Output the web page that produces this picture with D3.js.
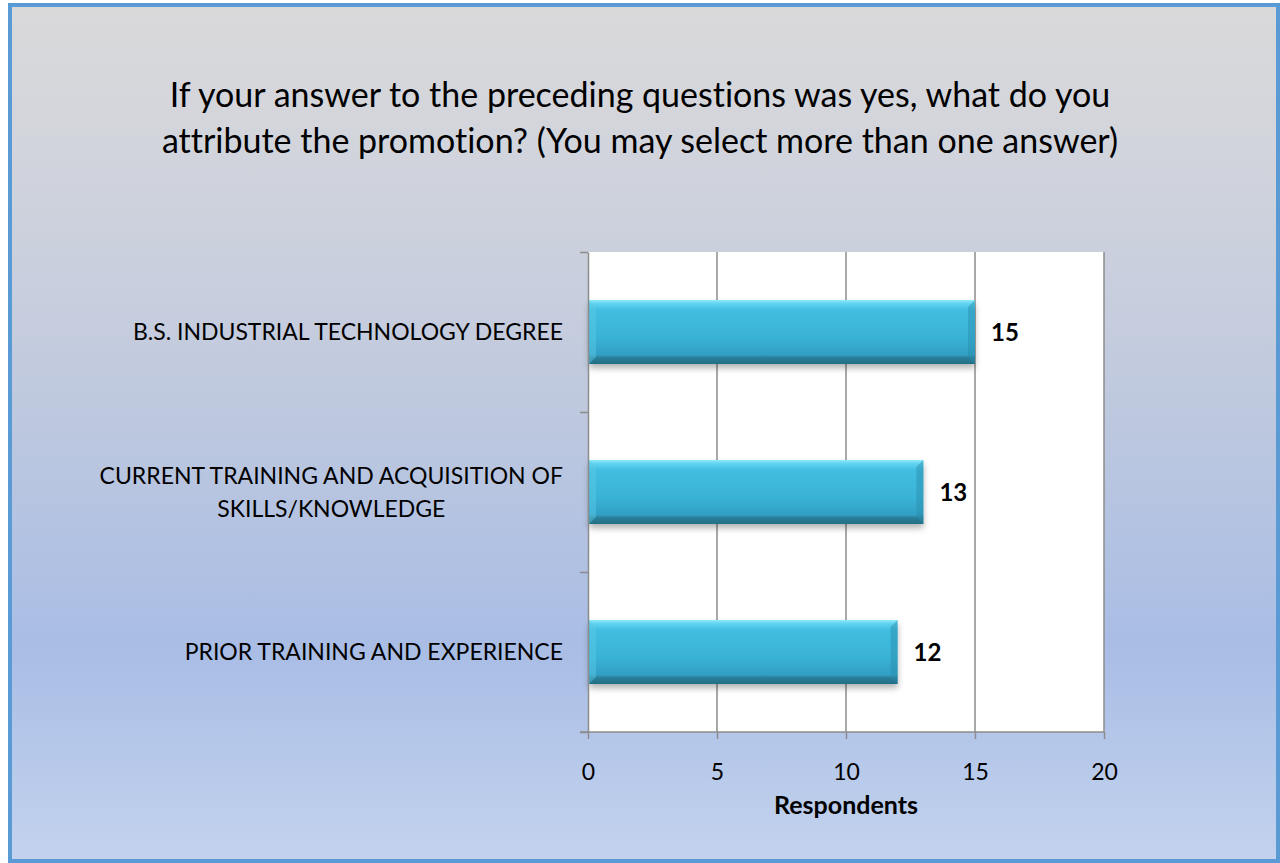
<!DOCTYPE html>
<html>
<head>
<meta charset="utf-8">
<script src="https://cdn.jsdelivr.net/npm/d3@7"></script>
<style>
  html, body { margin: 0; padding: 0; background: #ffffff; }
  svg { display: block; }
  text {
    font-family: Lato, "Open Sans", sans-serif;
    fill: #000;
    font-variant-ligatures: none;
    font-feature-settings: "liga" 0, "clig" 0;
  }
</style>
</head>
<body>
<svg id="chart" width="1280" height="863"></svg>
<script>
'use strict';

// chart data
var titleLines = [
    'If your answer to the preceding questions was yes, what do you',
    'attribute the promotion? (You may select more than one answer)'
];
var categories = [
    'B.S. INDUSTRIAL TECHNOLOGY DEGREE',
    'CURRENT TRAINING AND ACQUISITION OF SKILLS/KNOWLEDGE',
    'PRIOR TRAINING AND EXPERIENCE'
];
var values = [15, 13, 12];
var xTicks = [0, 5, 10, 15, 20];
var xTitle = 'Respondents';

var W = 1280, H = 863;
var margin = { left: 588, top: 252, right: 176, bottom: 131 };
var width = W - margin.left - margin.right;
var height = H - margin.top - margin.bottom;

var svg = d3.select('#chart');
var defs = svg.append('defs');

// background gradient
var bg = defs.append('linearGradient')
    .attr('id', 'bg-grad')
    .attr('x1', 0).attr('y1', 0).attr('x2', 0).attr('y2', 1);
[[0, '#d9d9da'], [0.15, '#d3d5dc'], [0.46, '#bfc9de'], [0.75, '#a9bde5'], [1, '#c3d3ee']]
    .forEach(function(s) {
        bg.append('stop').attr('offset', s[0]).attr('stop-color', s[1]);
    });

// bar gradient
var barGrad = defs.append('linearGradient')
    .attr('id', 'bar-grad')
    .attr('x1', 0).attr('y1', 0).attr('x2', 0).attr('y2', 1);
[[0, '#8cecfb'], [0.06, '#5fd3ee'], [0.16, '#41bde0'], [0.6, '#39b2d6'], [0.86, '#319fc3'], [0.9, '#2a7f99'], [1, '#236f87']]
    .forEach(function(s) {
        barGrad.append('stop').attr('offset', s[0]).attr('stop-color', s[1]);
    });

var shadow = defs.append('filter')
    .attr('id', 'bar-shadow')
    .attr('x', '-5%').attr('y', '-20%').attr('width', '110%').attr('height', '150%');
shadow.append('feDropShadow')
    .attr('dx', 0).attr('dy', 4)
    .attr('stdDeviation', 3)
    .attr('flood-color', '#000')
    .attr('flood-opacity', 0.3);

// frame
svg.append('rect')
    .attr('x', 10).attr('y', 5)
    .attr('width', 1268).attr('height', 856)
    .attr('fill', 'url(#bg-grad)')
    .attr('stroke', '#5b9bd5')
    .attr('stroke-width', 4);

// title
svg.append('g')
    .attr('class', 'title')
    .selectAll('text')
    .data(titleLines)
    .enter()
    .append('text')
    .attr('x', 640)
    .attr('y', function(d, i) { return 107 + i * 46; })
    .attr('text-anchor', 'middle')
    .style('font-size', '34px')
    .text(function(d) { return d; });

var x = d3.scaleLinear()
    .domain([0, 20])
    .range([0, width]);

var y = d3.scaleBand()
    .domain(categories)
    .range([0, height])
    .paddingInner(0.6)
    .paddingOuter(0.3);

// boundary ticks for the category axis
var yEdge = d3.scaleLinear()
    .domain([0, categories.length])
    .range([0, height]);

var g = svg.append('g')
    .attr('transform', 'translate(' + margin.left + ',' + margin.top + ')');

// plot area
g.append('rect')
    .attr('width', width)
    .attr('height', height)
    .attr('fill', '#ffffff');

// grid lines
g.append('g')
    .attr('id', 'grid-group')
    .selectAll('line')
    .data(xTicks.slice(1))
    .enter()
    .append('line')
    .attr('x1', function(d) { return x(d); })
    .attr('x2', function(d) { return x(d); })
    .attr('y1', 0)
    .attr('y2', height)
    .attr('stroke', '#8c8c8c')
    .attr('stroke-width', 1.5);

// bars
var bars = g.append('g')
    .attr('id', 'bar-group')
    .selectAll('g')
    .data(categories)
    .enter()
    .append('g');

bars.append('rect')
    .attr('x', x(0) + 1)
    .attr('y', function(d) { return y(d); })
    .attr('width', function(d, i) { return x(values[i]) - x(0) - 1; })
    .attr('height', y.bandwidth())
    .attr('fill', 'url(#bar-grad)')
    .attr('filter', 'url(#bar-shadow)');

// bevel corners
var bev = 7;
bars.append('path')
    .attr('d', function(d, i) {
        var x0 = x(0) + 1, y0 = y(d), y1 = y(d) + y.bandwidth();
        return 'M' + x0 + ',' + y0 + 'L' + (x0 + bev) + ',' + (y0 + bev) + 'L' + (x0 + bev) + ',' + (y1 - bev) + 'L' + x0 + ',' + y1 + 'Z';
    })
    .attr('fill', '#5ccbe8')
    .attr('opacity', 0.45);

bars.append('path')
    .attr('d', function(d, i) {
        var x1 = x(values[i]), y0 = y(d), y1 = y(d) + y.bandwidth();
        return 'M' + x1 + ',' + y0 + 'L' + (x1 - bev) + ',' + (y0 + bev) + 'L' + (x1 - bev) + ',' + (y1 - bev) + 'L' + x1 + ',' + y1 + 'Z';
    })
    .attr('fill', '#2b8cab')
    .attr('opacity', 0.45);

// value labels
bars.append('text')
    .attr('x', function(d, i) { return x(values[i]) + 16; })
    .attr('y', function(d) { return y(d) + y.bandwidth() / 2; })
    .attr('dy', '0.36em')
    .style('font-size', '24px')
    .style('font-weight', 'bold')
    .text(function(d, i) { return values[i]; });

// x axis
var axisX = d3.axisBottom(x)
    .tickValues(xTicks)
    .tickSize(7)
    .tickSizeOuter(0)
    .tickPadding(25);

var gx = g.append('g')
    .attr('id', 'axisX')
    .attr('transform', 'translate(0,' + height + ')')
    .call(axisX);
gx.select('.domain')
    .attr('d', 'M-8,0H' + width)
    .attr('stroke', '#8c8c8c')
    .attr('stroke-width', 1.5);
gx.selectAll('.tick line')
    .attr('stroke', '#8c8c8c')
    .attr('stroke-width', 1.5);
gx.selectAll('.tick text')
    .style('font-family', 'Lato, "Open Sans", sans-serif')
    .style('font-size', '23px')
    .attr('fill', '#000');

// y axis
var axisY = d3.axisLeft(yEdge)
    .tickValues(d3.range(categories.length + 1))
    .tickFormat('')
    .tickSize(8)
    .tickSizeOuter(0);

var gy = g.append('g')
    .attr('id', 'axisY')
    .call(axisY);
gy.select('.domain')
    .attr('stroke', '#8c8c8c')
    .attr('stroke-width', 1.5);
gy.selectAll('.tick line')
    .attr('stroke', '#8c8c8c')
    .attr('stroke-width', 1.5);

// category labels, wrapped and centred as a block right of the axis
var labelRight = -25;
var maxLabel = 480;
var lineH = 33;

var labels = g.append('g')
    .attr('id', 'label-group')
    .selectAll('text')
    .data(categories)
    .enter()
    .append('text')
    .style('font-size', '23px')
    .attr('text-anchor', 'middle');

labels.each(function(d) {
    var t = d3.select(this);
    var words = d.split(' ');
    var lines = [];
    var cur = [];
    // measure words to wrap like the original
    words.forEach(function(w) {
        var test = cur.concat([w]).join(' ');
        t.text(test);
        if (this.getComputedTextLength() > maxLabel && cur.length) {
            lines.push(cur.join(' '));
            cur = [w];
        } else {
            cur.push(w);
        }
    }, this);
    lines.push(cur.join(' '));

    var widths = lines.map(function(l) {
        t.text(l);
        return this.getComputedTextLength();
    }, this);
    t.text('');
    var blockW = d3.max(widths);
    var cx = labelRight - blockW / 2;
    var cy = y(d) + y.bandwidth() / 2;
    var top = cy - (lines.length - 1) * lineH / 2;

    lines.forEach(function(l, i) {
        t.append('tspan')
            .attr('x', cx)
            .attr('y', top + i * lineH)
            .attr('dy', '0.35em')
            .text(l);
    });
});

// axis title
g.append('text')
    .attr('x', width / 2)
    .attr('y', height + 82)
    .attr('text-anchor', 'middle')
    .style('font-size', '25px')
    .style('font-weight', 'bold')
    .text(xTitle);
</script>
</body>
</html>
